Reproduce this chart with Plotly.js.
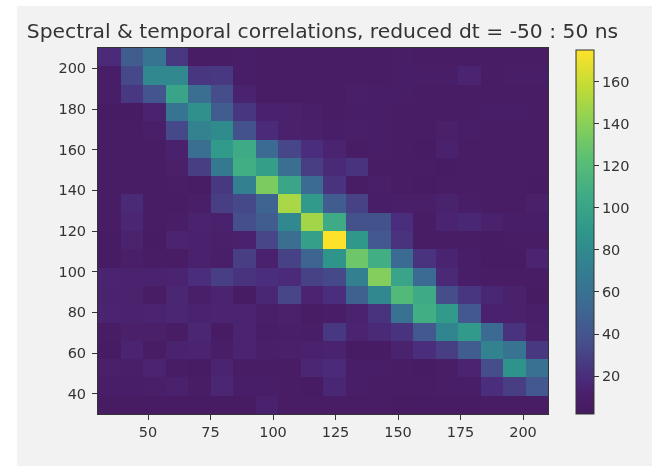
<!DOCTYPE html>
<html><head><meta charset="utf-8">
<script src="https://cdn.plot.ly/plotly-3.0.1.min.js"></script>
<style>html,body{margin:0;padding:0;background:#fff;width:652px;height:466px;overflow:hidden}
#p{position:absolute;left:17px;top:6px;width:635px;height:460px;filter:blur(0.6px)}</style>
</head><body><div id="p"></div>
<script>
var plotTitle='Spectral &amp; temporal correlations, reduced dt = -50 : 50 ns';
var xCenters=[34.5,43.5,52.5,61.5,70.5,79.5,88.5,97.5,106.5,115.5,124.5,133.5,142.5,151.5,160.5,169.5,178.5,187.5,196.5,205.5];
var yCenters=[34.5,43.5,52.5,61.5,70.5,79.5,88.5,97.5,106.5,115.5,124.5,133.5,142.5,151.5,160.5,169.5,178.5,187.5,196.5,205.5];
var xTicks=[50,75,100,125,150,175,200];
var yTicks=[40,60,80,100,120,140,160,180,200];
var cbTicks=[20,40,60,80,100,120,140,160];
// rows listed from top (y=205.5) to bottom (y=34.5)
var rowsTopDown=[
[18,45,62,25,8,8,9,8,8,7,8,8,7,9,8,8,8,7,7,8],
[9,33,78,78,24,25,9,8,7,7,8,7,7,9,9,9,14,8,9,9],
[9,25,40,100,58,35,13,8,8,7,8,10,9,9,8,8,7,8,8,8],
[6,6,13,62,84,45,24,12,12,10,8,9,9,8,7,7,8,9,9,7],
[7,8,10,33,74,80,38,18,12,11,9,10,9,7,7,11,9,8,7,8],
[7,7,8,12,58,92,105,55,32,20,14,8,9,7,6,12,8,8,8,7],
[7,8,8,11,28,66,108,95,58,28,17,22,7,8,8,6,8,8,8,8],
[7,8,7,9,7,25,72,135,102,55,22,8,10,8,6,7,7,8,7,6],
[8,17,8,8,10,28,33,50,150,92,45,30,9,10,10,13,9,8,8,11],
[8,15,7,9,13,12,36,45,78,148,105,38,38,20,8,14,16,12,9,9],
[6,13,6,14,12,11,12,32,58,96,175,90,42,22,7,8,8,6,7,7],
[6,10,8,7,12,10,28,12,30,50,88,130,108,55,22,14,9,6,6,14],
[14,13,13,14,20,28,22,20,18,30,33,72,138,100,55,17,9,8,8,8],
[13,13,8,15,10,14,6,16,32,14,20,48,78,118,105,35,24,16,12,5],
[14,13,14,15,13,14,14,10,12,8,9,13,22,60,108,92,42,12,12,10],
[7,11,11,8,15,6,14,9,10,9,25,14,17,22,42,76,92,55,22,11],
[6,14,7,13,14,9,14,10,11,12,13,6,6,13,20,28,45,74,62,25],
[11,10,14,8,6,14,8,8,8,15,18,9,9,8,6,9,14,35,86,60],
[9,9,10,12,8,15,9,9,8,6,16,9,8,8,8,9,9,20,28,42],
[5,5,6,6,6,5,5,12,8,8,8,7,7,5,6,6,6,7,7,7]
];
var colorStops=[[0,'#461a5e'],[0.05,'#4a1f6a'],[0.1,'#4a2c7c'],[0.2,'#45508c'],[0.3,'#3c6a92'],[0.4,'#327f90'],[0.5,'#2f968b'],[0.6,'#3fab86'],[0.7,'#5abf74'],[0.8,'#8ad058'],[0.9,'#c2dc35'],[1,'#fde22a']];
var zRows=rowsTopDown.slice().reverse();
var fontFam='"DejaVu Sans",sans-serif';
var W=635,H=460,ox=17,oy=6;
var axisInk='#333';
var data=[{type:'heatmap',x:xCenters,y:yCenters,z:zRows,zmin:2,zmax:175,colorscale:colorStops,xgap:0,ygap:0,
 colorbar:{thickness:18,thicknessmode:'pixels',lenmode:'fraction',len:364/366,yanchor:'bottom',y:0,
   xanchor:'left',x:(576-97.5)/450.5,xpad:0,ypad:0,outlinecolor:axisInk,outlinewidth:1,
   tickmode:'array',tickvals:cbTicks,ticks:'outside',ticklen:5,tickcolor:axisInk,tickwidth:1,
   tickfont:{family:fontFam,size:14.5,color:axisInk}}}];
var axisCommon={range:[30,210],tickmode:'array',ticks:'outside',ticklen:5,tickcolor:axisInk,tickwidth:1,showgrid:false,zeroline:false,showline:true,linecolor:axisInk,linewidth:1,mirror:true,tickfont:{family:fontFam,size:14.5,color:axisInk}};
var layout={width:W,height:H,paper_bgcolor:'#f2f2f2',plot_bgcolor:'#f2f2f2',
 margin:{l:97.5-ox,r:ox+W-548,t:48-oy,b:oy+H-414,pad:0},
 title:{text:plotTitle,font:{family:fontFam,size:20.3,color:axisInk},x:(322.5-ox)/W,xanchor:'center',y:1-(31-oy)/H,yanchor:'middle'},
 xaxis:Object.assign({},axisCommon,{tickvals:xTicks}),
 yaxis:Object.assign({},axisCommon,{tickvals:yTicks,ticklabelstandoff:3})
};
Plotly.newPlot('p',data,layout,{displayModeBar:false,staticPlot:true});
</script></body></html>
